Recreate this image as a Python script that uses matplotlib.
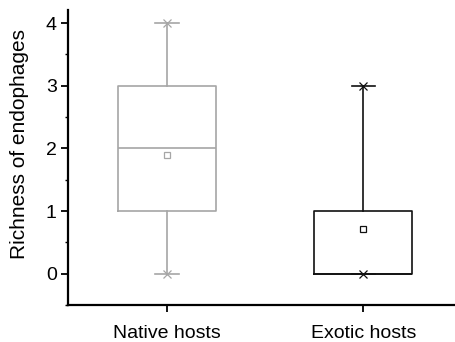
import matplotlib
matplotlib.use("Agg")
import matplotlib.pyplot as plt
from matplotlib.ticker import MultipleLocator

plt.rcParams['font.family'] = ['Liberation Sans', 'DejaVu Sans']

categories = ["Native hosts", "Exotic hosts"]
mins = [0, 0]
q1s = [1, 0]
medians = [2, 0]
q3s = [3, 1]
maxs = [4, 3]
means = [1.9, 0.72]
colors = ["#a6a6a6", "#111111"]

fig = plt.figure(figsize=(4.56, 3.42), dpi=100)
ax = fig.add_axes([0.149, 0.108, 0.849, 0.863])

positions = [1, 2]
for i, pos in enumerate(positions):
    stats = [dict(med=medians[i], q1=q1s[i], q3=q3s[i], whislo=mins[i], whishi=maxs[i],
                  mean=means[i], fliers=[])]
    c = colors[i]
    ax.bxp(stats, positions=[pos], widths=0.5, showmeans=True, showfliers=False,
           manage_ticks=False,
           boxprops=dict(color=c, linewidth=1.2),
           medianprops=dict(color=c, linewidth=1.2),
           whiskerprops=dict(color=c, linewidth=1.2),
           capprops=dict(color=c, linewidth=1.2),
           capwidths=0.12,
           meanprops=dict(marker='s', markersize=4, markerfacecolor='white',
                          markeredgecolor=c, markeredgewidth=0.9))
    ax.plot([pos, pos], [mins[i], maxs[i]], linestyle='none', marker='x',
            markersize=6, color=c, markeredgewidth=0.9)

ax.set_xlim(0.497, 2.467)
ax.set_ylim(-0.5, 4.21)
ax.set_xticks(positions)
ax.set_xticklabels(categories, fontsize=14)
ax.set_yticks([0, 1, 2, 3, 4])
ax.yaxis.set_minor_locator(MultipleLocator(0.5))
ax.tick_params(axis='y', which='major', labelsize=14, length=5, width=1.3, direction='out', pad=3)
ax.tick_params(axis='y', which='minor', length=2, width=1.0, direction='out')
ax.tick_params(axis='x', which='major', labelsize=14, length=5, width=1.3, direction='out', pad=9)
for s in ['top', 'right']:
    ax.spines[s].set_visible(False)
for s in ['left', 'bottom']:
    ax.spines[s].set_linewidth(1.6)
ax.set_ylabel("Richness of endophages", fontsize=15)
ax.yaxis.set_label_coords(-0.1, 0.545)

fig.savefig("out.png", dpi=100)
